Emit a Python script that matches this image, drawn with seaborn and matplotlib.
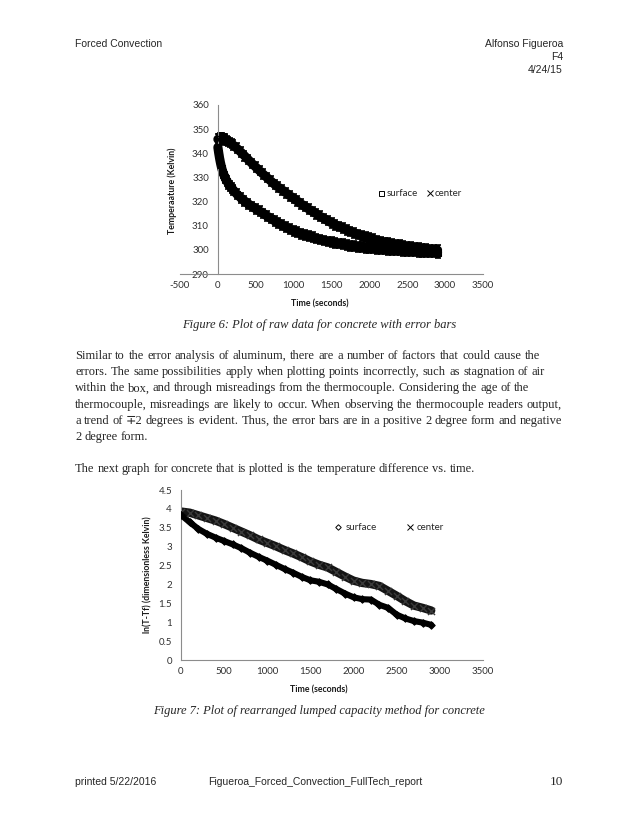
import matplotlib
matplotlib.use("Agg")
import matplotlib.pyplot as plt
import seaborn as sns
import pandas as pd
from matplotlib.lines import Line2D
from matplotlib.ticker import FuncFormatter

# ---------------- data: Figure 6 (raw temperatures, K) ----------------
time_raw = [0, 10, 20, 30, 40, 50, 60, 70, 80, 90, 100, 120, 140, 160, 180, 200,
            250, 300, 350, 400, 450, 500, 550, 600, 650, 700, 750, 800, 850, 900, 950,
            1000, 1050, 1100, 1150, 1200, 1250, 1300, 1350, 1400, 1450, 1500, 1550,
            1600, 1650, 1700, 1750, 1800, 1850, 1900, 1950, 2000, 2050, 2100, 2150,
            2200, 2250, 2300, 2350, 2400, 2450, 2500, 2550, 2600, 2650, 2700, 2750,
            2800, 2850, 2900]
surface_raw = [342.5, 340.3, 338.4, 336.7, 335.2, 333.9, 332.8, 331.8, 331.0, 330.2,
               329.5, 328.4, 327.4, 326.5, 325.7, 324.9, 323.1, 321.6, 320.3, 319.1,
               318.0, 317.0, 316.1, 315.1, 314.0, 313.0, 312.0, 311.1, 310.2, 309.4,
               308.6, 307.9, 307.3, 306.7, 306.2, 305.7, 305.2, 304.7, 304.3, 303.9,
               303.5, 303.2, 302.9, 302.6, 302.3, 302.0, 301.7, 301.5, 301.3, 301.1,
               300.9, 300.7, 300.5, 300.4, 300.2, 300.1, 300.0, 299.9, 299.8, 299.7,
               299.6, 299.5, 299.4, 299.3, 299.2, 299.1, 299.0, 298.9, 298.9, 298.8]
center_raw = [345.8, 346.0, 346.1, 346.2, 346.2, 346.2, 346.1, 346.0, 345.9, 345.8,
              345.6, 345.3, 344.9, 344.5, 344.0, 343.5, 342.1, 340.6, 339.0, 337.4,
              335.8, 334.3, 332.8, 331.3, 329.9, 328.5, 327.1, 325.9, 324.8, 323.6,
              322.4, 321.3, 320.2, 319.0, 318.0, 316.9, 315.9, 314.9, 313.9, 313.0,
              312.1, 311.2, 310.4, 309.7, 309.0, 308.3, 307.6, 307.0, 306.4, 305.8,
              305.3, 304.8, 304.4, 303.9, 303.5, 303.1, 302.8, 302.5, 302.2, 301.9,
              301.6, 301.4, 301.2, 301.0, 300.8, 300.6, 300.4, 300.2, 300.1, 299.9]
error_raw = 2.0

x_ticks_raw = [-500, 0, 500, 1000, 1500, 2000, 2500, 3000, 3500]
y_ticks_raw = [290, 300, 310, 320, 330, 340, 350, 360]

# ---------------- data: Figure 7 (ln(T-Tf)) ----------------
time_ln = [0, 100, 200, 300, 400, 500, 600, 700, 800, 900, 1000, 1100, 1200, 1300,
           1400, 1500, 1600, 1700, 1800, 1900, 2000, 2100, 2200, 2300, 2400, 2500,
           2600, 2700, 2800, 2900]
center_ln = [3.93, 3.90, 3.83, 3.76, 3.69, 3.60, 3.50, 3.40, 3.30, 3.19, 3.10, 3.01,
             2.91, 2.82, 2.72, 2.61, 2.52, 2.45, 2.33, 2.21, 2.10, 2.04, 2.01, 1.96,
             1.83, 1.70, 1.56, 1.44, 1.38, 1.31]
surface_ln = [3.84, 3.65, 3.47, 3.34, 3.24, 3.15, 3.06, 2.96, 2.84, 2.73, 2.63, 2.52,
              2.41, 2.31, 2.20, 2.11, 2.07, 2.00, 1.88, 1.76, 1.66, 1.61, 1.60, 1.46,
              1.38, 1.20, 1.10, 1.03, 0.99, 0.93]

x_ticks_ln = [0, 500, 1000, 1500, 2000, 2500, 3000, 3500]
y_ticks_ln = [0, 0.5, 1, 1.5, 2, 2.5, 3, 3.5, 4, 4.5]

series_names = ["surface", "center"]

# ---------------- page text ----------------
header_left = "Forced Convection"
header_right = ["Alfonso Figueroa", "F4", "4/24/15"]
caption6 = "Figure 6: Plot of raw data for concrete with error bars"
caption7 = "Figure 7: Plot of rearranged lumped capacity method for concrete"
paragraph = [
    "Similar to the error analysis of aluminum, there are a number of factors that could cause the",
    "errors. The same possibilities apply when plotting points incorrectly, such as stagnation of air",
    "within the box, and through misreadings from the thermocouple. Considering the age of the",
    "thermocouple, misreadings are likely to occur. When observing the thermocouple readers output,",
    "a trend of \u22132 degrees is evident. Thus, the error bars are in a positive 2 degree form and negative",
    "2 degree form.",
]
paragraph2 = "The next graph for concrete that is plotted is the temperature difference vs. time."
footer_left = "printed 5/22/2016"
footer_mid = "Figueroa_Forced_Convection_FullTech_report"
footer_page = "10"

# ---------------- setup ----------------
sns.set_theme(style="white")
plt.rcParams["font.family"] = ["Lato", "DejaVu Sans"]
plt.rcParams["axes.unicode_minus"] = False

W, H = 638, 826
fig = plt.figure(figsize=(W / 100, H / 100), dpi=100)
fig.patch.set_facecolor("white")


def fx(x):
    return x / W


def fy(y):
    return 1 - y / H


SPINE = "#8c8c8c"
TICKC = "#303030"
TICKSIZE = 7.0
TITLESIZE = 6.3
sans = ["Liberation Sans", "DejaVu Sans"]
serif = ["Liberation Serif", "DejaVu Serif"]
fmt_g = FuncFormatter(lambda v, p: f"{v:g}")

# ---------------- Figure 6 ----------------
ax1 = fig.add_axes([fx(180), fy(274), (483 - 180) / W, (274 - 105) / H])
df_raw = pd.DataFrame({
    "time": time_raw * 2,
    "temp": surface_raw + center_raw,
    "series": ["surface"] * len(time_raw) + ["center"] * len(time_raw),
})
for name in series_names:
    d = df_raw[df_raw["series"] == name]
    sns.lineplot(data=d, x="time", y="temp", color="black", linewidth=6.6,
                 ax=ax1, legend=False, zorder=1)
    ax1.errorbar(d["time"], d["temp"], yerr=error_raw, fmt="none", ecolor="black",
                 elinewidth=2.8, capsize=2.2, capthick=1.2, zorder=2)
sns.scatterplot(data=df_raw[df_raw["series"] == "surface"], x="time", y="temp",
                marker="s", s=14, color="black", linewidth=0.8, ax=ax1,
                legend=False, zorder=3)
ax1.collections[-1].set_facecolor("black")
ax1.collections[-1].set_edgecolor("black")
sns.scatterplot(data=df_raw[df_raw["series"] == "center"], x="time", y="temp",
                marker="x", s=14, color="black", linewidth=0.8, ax=ax1,
                legend=False, zorder=3)

ax1.set_xlim(-500, 3500)
ax1.set_ylim(290, 360)
ax1.set_xticks(x_ticks_raw)
ax1.set_yticks(y_ticks_raw)
ax1.xaxis.set_major_formatter(fmt_g)
ax1.yaxis.set_major_formatter(fmt_g)
ax1.spines["left"].set_position(("data", 0))
for s in ["top", "right"]:
    ax1.spines[s].set_visible(False)
for s in ["left", "bottom"]:
    ax1.spines[s].set_color(SPINE)
    ax1.spines[s].set_linewidth(0.8)
ax1.tick_params(axis="both", length=0, labelsize=TICKSIZE, labelcolor=TICKC)
ax1.tick_params(axis="y", pad=6.5)
ax1.tick_params(axis="x", pad=5)
ax1.set_xlabel("")
ax1.set_ylabel("")
ax1.set_facecolor("none")

h_sq = Line2D([], [], marker="s", ls="none", mfc="none", mec="black", ms=3.6, mew=0.7)
h_x = Line2D([], [], marker="x", ls="none", color="black", ms=4, mew=0.7)
ax1.legend([h_sq, h_x], series_names, ncol=2, frameon=False, loc="center left",
           bbox_to_anchor=(fx(379), fy(194)), bbox_transform=fig.transFigure,
           handlelength=0.5, handletextpad=0.25, columnspacing=1.0,
           fontsize=TICKSIZE, borderpad=0, borderaxespad=0)

fig.text(fx(320), fy(304), "Time (seconds)", fontsize=TITLESIZE, fontweight="bold",
         ha="center", va="center", color="#1a1a1a")
fig.text(fx(172), fy(191), "Temperaature (Kelvin)", fontsize=TITLESIZE,
         fontweight="bold", ha="center", va="center", rotation=90, color="#1a1a1a")

# ---------------- Figure 7 ----------------
ax2 = fig.add_axes([fx(181), fy(660), (483 - 181) / W, (660 - 490) / H])
df_ln = pd.DataFrame({
    "time": time_ln * 2,
    "lnT": surface_ln + center_ln,
    "series": ["surface"] * len(time_ln) + ["center"] * len(time_ln),
})
sns.lineplot(data=df_ln[df_ln["series"] == "center"], x="time", y="lnT",
             color="#151515", linewidth=6.0, ax=ax2, legend=False, zorder=2)
sns.lineplot(data=df_ln[df_ln["series"] == "surface"], x="time", y="lnT",
             color="black", linewidth=4.4, ax=ax2, legend=False, zorder=2)
sns.scatterplot(data=df_ln[df_ln["series"] == "center"], x="time", y="lnT",
                marker="x", s=26, color="#3a3a3a", linewidth=1.0, ax=ax2,
                legend=False, zorder=3)
sns.scatterplot(data=df_ln[df_ln["series"] == "surface"], x="time", y="lnT",
                marker="D", s=14, color="black", linewidth=0.8, ax=ax2,
                legend=False, zorder=3)
ax2.collections[-1].set_edgecolor("black")

ax2.set_xlim(0, 3500)
ax2.set_ylim(0, 4.5)
ax2.set_xticks(x_ticks_ln)
ax2.set_yticks(y_ticks_ln)
ax2.xaxis.set_major_formatter(fmt_g)
ax2.yaxis.set_major_formatter(fmt_g)
for s in ["top", "right"]:
    ax2.spines[s].set_visible(False)
for s in ["left", "bottom"]:
    ax2.spines[s].set_color(SPINE)
    ax2.spines[s].set_linewidth(0.8)
ax2.tick_params(axis="both", length=0, labelsize=TICKSIZE, labelcolor=TICKC)
ax2.tick_params(axis="y", pad=6.5)
ax2.tick_params(axis="x", pad=5)
ax2.set_xlabel("")
ax2.set_ylabel("")
ax2.set_facecolor("none")

h_d = Line2D([], [], marker="D", ls="none", mfc="none", mec="black", ms=2.8, mew=0.7)
h_x2 = Line2D([], [], marker="x", ls="none", color="black", ms=4, mew=0.7)
ax2.legend([h_d, h_x2], series_names, ncol=2, frameon=False, loc="center left",
           bbox_to_anchor=(fx(336), fy(528)), bbox_transform=fig.transFigure,
           handlelength=0.5, handletextpad=0.45, columnspacing=3.2,
           fontsize=TICKSIZE, borderpad=0, borderaxespad=0)

fig.text(fx(319), fy(690), "Time (seconds)", fontsize=TITLESIZE, fontweight="bold",
         ha="center", va="center", color="#1a1a1a")
fig.text(fx(148), fy(575), "ln(T-Tf) (dimensionless Kelvin)", fontsize=TITLESIZE,
         fontweight="bold", ha="center", va="center", rotation=90, color="#1a1a1a")

# ---------------- page text ----------------
fig.text(fx(75), fy(44), header_left, fontsize=7.5, family=sans, ha="left", va="center")
for i, t in enumerate(header_right):
    fig.text(fx(563), fy(44 + 13 * i), t, fontsize=7.5, family=sans, ha="right", va="center")

fig.text(fx(319), fy(325), caption6, fontsize=9, family=serif, style="italic",
         ha="center", va="center")
fig.text(fx(319), fy(711), caption7, fontsize=9, family=serif, style="italic",
         ha="center", va="center")

fig.text(fx(75), fy(782), footer_left, fontsize=7.5, family=sans, ha="left", va="center")
fig.text(fx(208), fy(782), footer_mid, fontsize=7.5, family=sans, ha="left", va="center")
fig.text(fx(563), fy(782), footer_page, fontsize=9.5, family=serif, ha="right", va="center")

fig.canvas.draw()
renderer = fig.canvas.get_renderer()
SPACE = 3.2


def put_line(line, y, x0, x1=None, size=9):
    words = line.split()
    texts = [fig.text(0, fy(y), w, fontsize=size, family=serif, ha="left", va="center")
             for w in words]
    widths = [t.get_window_extent(renderer).width for t in texts]
    if x1 is None or len(words) < 2:
        sp = SPACE
    else:
        sp = (x1 - x0 - sum(widths)) / (len(words) - 1)
    x = x0
    for t, w in zip(texts, widths):
        t.set_x(fx(x))
        x += w + sp


line_ends = [540, 545, 529, 562, 562, None]
for i, (line, end) in enumerate(zip(paragraph, line_ends)):
    put_line(line, 356 + 16.2 * i, 75, end)
put_line(paragraph2, 469, 75, 475)

fig.savefig("out.png", dpi=100, facecolor="white")
